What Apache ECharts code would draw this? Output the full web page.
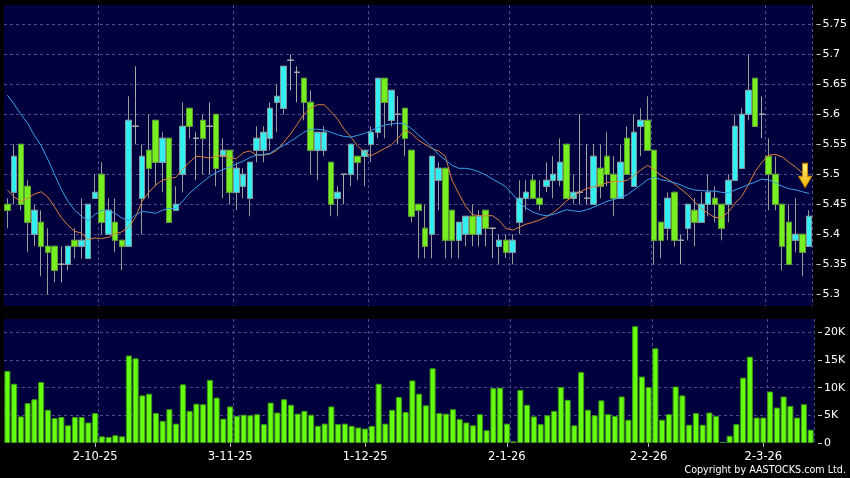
<!DOCTYPE html>
<html><head><meta charset="utf-8">
<script src="https://cdn.jsdelivr.net/npm/echarts@6/dist/echarts.min.js"></script>
<style>html,body{margin:0;padding:0;background:#000;}#c{width:850px;height:478px;}</style>
</head><body><div id="c"></div>
<script>
const dates = ['12-9-25','15-9-25','16-9-25','17-9-25','18-9-25','19-9-25','22-9-25','23-9-25','24-9-25','25-9-25','26-9-25','29-9-25','30-9-25',
'2-10-25','3-10-25','6-10-25','8-10-25','9-10-25','10-10-25','13-10-25','14-10-25','15-10-25','16-10-25','17-10-25','20-10-25','21-10-25','22-10-25','23-10-25','24-10-25','27-10-25','28-10-25','30-10-25','31-10-25',
'3-11-25','4-11-25','5-11-25','6-11-25','7-11-25','10-11-25','11-11-25','12-11-25','13-11-25','14-11-25','17-11-25','18-11-25','19-11-25','20-11-25','21-11-25','24-11-25','25-11-25','26-11-25','27-11-25','28-11-25',
'1-12-25','2-12-25','3-12-25','4-12-25','5-12-25','8-12-25','9-12-25','10-12-25','11-12-25','12-12-25','15-12-25','16-12-25','17-12-25','18-12-25','19-12-25','22-12-25','23-12-25','24-12-25','29-12-25','30-12-25','31-12-25',
'2-1-26','5-1-26','6-1-26','7-1-26','8-1-26','9-1-26','12-1-26','13-1-26','14-1-26','15-1-26','16-1-26','19-1-26','20-1-26','21-1-26','22-1-26','23-1-26','26-1-26','27-1-26','28-1-26','29-1-26','30-1-26',
'2-2-26','3-2-26','4-2-26','5-2-26','6-2-26','9-2-26','10-2-26','11-2-26','12-2-26','13-2-26','16-2-26','20-2-26','23-2-26','24-2-26','25-2-26','26-2-26','27-2-26',
'2-3-26','3-3-26','4-3-26','5-3-26','6-3-26','9-3-26','10-3-26','11-3-26'];

const opens = [5.45,5.47,5.55,5.48,5.40,5.42,5.38,5.38,5.35,5.35,
5.39,5.38,5.36,5.46,5.50,5.40,5.42,5.39,5.38,5.58,
5.46,5.54,5.59,5.52,5.56,5.44,5.50,5.61,5.56,5.59,
5.58,5.60,5.53,5.54,5.47,5.48,5.46,5.54,5.54,5.56,
5.62,5.61,5.69,5.67,5.66,5.62,5.54,5.54,5.52,5.46,
5.50,5.50,5.53,5.53,5.55,5.57,5.66,5.59,5.60,5.61,
5.54,5.45,5.41,5.40,5.49,5.51,5.44,5.39,5.40,5.43,
5.40,5.44,5.41,5.38,5.39,5.37,5.42,5.46,5.49,5.46,
5.48,5.49,5.49,5.55,5.46,5.47,5.46,5.45,5.51,5.53,
5.50,5.46,5.56,5.48,5.58,5.59,5.54,5.42,5.41,5.47,
5.39,5.41,5.44,5.42,5.45,5.46,5.45,5.45,5.49,5.51,
5.60,5.66,5.60,5.53,5.50,5.45,5.42,5.39,5.40,5.38];

const closes = [5.44,5.53,5.45,5.42,5.44,5.38,5.37,5.34,5.35,5.38,
5.38,5.39,5.45,5.47,5.42,5.44,5.39,5.38,5.59,5.58,
5.53,5.51,5.52,5.56,5.42,5.45,5.58,5.58,5.56,5.56,
5.58,5.51,5.54,5.47,5.51,5.50,5.52,5.56,5.57,5.61,
5.63,5.68,5.69,5.67,5.62,5.54,5.57,5.57,5.45,5.47,
5.50,5.55,5.52,5.54,5.57,5.66,5.62,5.64,5.60,5.56,
5.43,5.44,5.38,5.53,5.51,5.39,5.39,5.42,5.43,5.40,
5.43,5.41,5.41,5.39,5.37,5.39,5.46,5.47,5.46,5.45,
5.49,5.50,5.52,5.46,5.47,5.47,5.46,5.53,5.48,5.50,
5.46,5.52,5.50,5.57,5.59,5.54,5.39,5.39,5.46,5.39,
5.39,5.45,5.42,5.45,5.47,5.45,5.41,5.49,5.58,5.60,
5.64,5.58,5.60,5.50,5.45,5.38,5.35,5.40,5.37,5.43];

const lows = [5.41,5.45,5.44,5.37,5.38,5.33,5.30,5.32,5.32,5.34,
5.36,5.36,5.36,5.46,5.40,5.40,5.37,5.34,5.38,5.55,
5.40,5.46,5.48,5.47,5.42,5.44,5.47,5.56,5.49,5.50,
5.50,5.48,5.46,5.45,5.44,5.46,5.43,5.52,5.52,5.54,
5.57,5.60,5.64,5.62,5.59,5.50,5.49,5.53,5.43,5.43,
5.45,5.48,5.49,5.48,5.52,5.56,5.56,5.58,5.55,5.53,
5.42,5.36,5.36,5.36,5.44,5.36,5.36,5.36,5.38,5.38,
5.38,5.38,5.36,5.35,5.36,5.35,5.40,5.44,5.46,5.44,
5.47,5.46,5.48,5.46,5.45,5.45,5.45,5.45,5.46,5.48,
5.43,5.46,5.50,5.48,5.53,5.54,5.35,5.36,5.39,5.38,
5.35,5.39,5.38,5.42,5.43,5.42,5.39,5.42,5.49,5.51,
5.59,5.58,5.56,5.44,5.44,5.34,5.35,5.37,5.33,5.38];

const highs = [5.46,5.55,5.55,5.49,5.45,5.44,5.41,5.38,5.38,5.38,
5.41,5.46,5.45,5.50,5.52,5.46,5.46,5.39,5.63,5.68,
5.55,5.60,5.59,5.57,5.56,5.48,5.62,5.61,5.57,5.60,
5.62,5.60,5.56,5.54,5.52,5.51,5.52,5.58,5.58,5.62,
5.65,5.68,5.70,5.68,5.66,5.64,5.57,5.58,5.52,5.48,
5.50,5.55,5.53,5.54,5.58,5.66,5.66,5.64,5.63,5.61,
5.54,5.45,5.45,5.53,5.52,5.51,5.44,5.42,5.43,5.45,
5.44,5.44,5.41,5.40,5.40,5.40,5.49,5.49,5.50,5.49,
5.52,5.53,5.56,5.55,5.50,5.60,5.55,5.55,5.55,5.57,
5.53,5.55,5.58,5.60,5.61,5.63,5.54,5.42,5.47,5.47,
5.40,5.45,5.46,5.47,5.50,5.48,5.45,5.50,5.60,5.61,
5.70,5.66,5.63,5.56,5.53,5.45,5.45,5.46,5.40,5.44];

const ma10 = [5.474,5.462,5.455,5.460,5.467,5.471,5.462,5.446,5.428,5.415,
5.405,5.402,5.391,5.394,5.393,5.395,5.401,5.404,5.412,5.428,
5.455,5.470,5.482,5.490,5.493,5.495,5.508,5.520,5.530,5.529,
5.527,5.530,5.532,5.527,5.526,5.536,5.539,5.532,5.532,5.534,
5.540,5.553,5.567,5.583,5.600,5.610,5.616,5.616,5.605,5.592,
5.575,5.562,5.547,5.536,5.531,5.537,5.543,5.549,5.560,5.574,
5.568,5.557,5.550,5.543,5.539,5.530,5.490,5.468,5.447,5.433,
5.431,5.431,5.431,5.423,5.410,5.407,5.412,5.417,5.420,5.424,
5.429,5.436,5.445,5.456,5.463,5.471,5.476,5.479,5.482,5.486,
5.488,5.488,5.490,5.498,5.507,5.515,5.508,5.498,5.492,5.484,
5.475,5.466,5.454,5.443,5.435,5.428,5.428,5.437,5.452,5.463,
5.483,5.505,5.520,5.532,5.533,5.529,5.520,5.512,5.502,5.494];

const ma20 = [5.632,5.617,5.600,5.585,5.565,5.548,5.525,5.500,5.475,5.455,
5.440,5.430,5.423,5.433,5.440,5.440,5.435,5.427,5.423,5.432,
5.438,5.437,5.435,5.440,5.443,5.443,5.455,5.468,5.478,5.487,
5.496,5.503,5.508,5.512,5.517,5.522,5.528,5.532,5.533,5.535,
5.543,5.548,5.555,5.562,5.570,5.575,5.575,5.574,5.570,5.566,
5.563,5.562,5.565,5.568,5.573,5.578,5.582,5.584,5.585,5.584,
5.576,5.566,5.556,5.545,5.533,5.524,5.515,5.510,5.510,5.508,
5.504,5.499,5.492,5.486,5.479,5.467,5.453,5.444,5.437,5.433,
5.431,5.433,5.437,5.441,5.439,5.438,5.441,5.445,5.450,5.455,
5.458,5.461,5.466,5.474,5.482,5.491,5.495,5.491,5.489,5.486,
5.482,5.477,5.474,5.473,5.472,5.472,5.470,5.469,5.474,5.478,
5.483,5.487,5.492,5.491,5.486,5.480,5.476,5.474,5.471,5.468];

const volumes = [13000,10700,4800,7200,7900,11000,6000,4500,4700,3200,
4700,4700,3700,5400,1200,1100,1400,1200,15800,15300,
8600,8900,5400,4000,6100,3500,10600,5800,7100,7000,
11400,8200,4400,6600,4900,5100,5000,5200,3400,7300,
5500,7900,6900,5300,5800,5100,3100,3500,6600,3400,
3500,3100,2800,2600,3100,10700,3500,6000,8300,5600,
11300,8900,6800,13500,5400,5300,6100,4300,3700,3200,
5200,2300,9900,10000,3500,300,9600,6900,4800,3400,
5000,5800,10100,7800,3200,12800,6000,5000,7700,5200,
4900,8400,4200,21100,12000,10100,17100,4200,5200,10200,
8600,3300,5400,3300,5500,4900,200,1300,3400,11800,
15600,4600,4600,9300,6400,8400,6700,4600,7000,2400];

const priceTicks = [5.3,5.35,5.4,5.45,5.5,5.55,5.6,5.65,5.7,5.75];
const volumeTicks = [0,5000,10000,15000,20000];
const labelDates = ['2-10-25','3-11-25','1-12-25','2-1-26','2-2-26','2-3-26'];

// full candles (wicks) and bodies only, both built from the same arrays
const ohlc = dates.map((d, i) => [opens[i], closes[i], lows[i], highs[i]]);
const bodies = dates.map((d, i) => [opens[i], closes[i], Math.min(opens[i], closes[i]), Math.max(opens[i], closes[i])]);
const splitIdx = new Set(labelDates.map(d => dates.indexOf(d) + 1));

const FONT = 'DejaVu Sans';
const gridLine = { show: true, lineStyle: { color: '#4c4c8e', type: [3, 3], width: 1 } };
const vSplit = Object.assign({}, gridLine, { interval: (idx) => splitIdx.has(idx) });

const chart = echarts.init(document.getElementById('c'), null, { renderer: 'canvas' });
chart.setOption({
  animation: false,
  backgroundColor: '#000000',
  grid: [
    { left: 4, right: 36, top: 5, height: 301, show: true, backgroundColor: '#00003f', borderWidth: 0 },
    { left: 4, right: 36, top: 319, height: 124, show: true, backgroundColor: '#00003f', borderWidth: 0 }
  ],
  xAxis: [
    { type: 'category', gridIndex: 0, data: dates, boundaryGap: true,
      axisLine: { show: false }, axisTick: { show: false }, axisLabel: { show: false },
      splitLine: vSplit },
    { type: 'category', gridIndex: 1, data: dates, boundaryGap: true,
      axisLine: { show: false },
      axisTick: { show: true, alignWithLabel: true, length: 4, interval: (i, v) => labelDates.includes(v), lineStyle: { color: '#bbbbbb' } },
      axisLabel: { show: true, interval: (i, v) => labelDates.includes(v), color: '#ffffff', fontFamily: FONT, fontSize: 11.5, margin: 8 },
      splitLine: vSplit }
  ],
  yAxis: [
    { type: 'value', gridIndex: 0, position: 'right', offset: 4, min: 5.2805, max: 5.7822, scale: true,
      axisLine: { show: false },
      axisTick: { show: true, length: 4, customValues: priceTicks, lineStyle: { color: '#cccccc' } },
      axisLabel: { customValues: priceTicks, color: '#ffffff', fontFamily: FONT, fontSize: 11, margin: 6,
        formatter: v => String(+v.toFixed(2)) },
      splitLine: gridLine },
    { type: 'value', gridIndex: 1, position: 'right', offset: 4, min: 0, max: 22400,
      axisLine: { show: false },
      axisTick: { show: true, length: 4, customValues: volumeTicks, lineStyle: { color: '#cccccc' } },
      axisLabel: { customValues: volumeTicks, color: '#ffffff', fontFamily: FONT, fontSize: 11, margin: 6,
        formatter: v => v === 0 ? '0' : (v / 1000) + 'K' },
      splitLine: Object.assign({}, gridLine, { showMinLine: false }) }
  ],
  series: [
    { type: 'candlestick', xAxisIndex: 0, yAxisIndex: 0, data: ohlc, barWidth: 6, z: 2,
      itemStyle: { color: '#9a9a9a', color0: '#9a9a9a', borderColor: '#9a9a9a', borderColor0: '#9a9a9a', borderColorDoji: '#a8a8a8', borderWidth: 1 },
      markPoint: {
        silent: true,
        label: { show: false },
        data: [{ coord: [dates[dates.length - 1], 5.498], symbol: 'path://M4,0 L9,0 L9,13 L13,13 L6.5,24 L0,13 L4,13 Z',
          symbolSize: [13, 24], symbolOffset: [-4, 0],
          itemStyle: { color: new echarts.graphic.LinearGradient(0, 0, 0, 1, [{ offset: 0, color: '#fff27a' }, { offset: 1, color: '#f2b000' }]), borderColor: '#c98a00', borderWidth: 1 } }]
      }
    },
    { type: 'candlestick', xAxisIndex: 0, yAxisIndex: 0, data: bodies, barWidth: 6, z: 2,
      itemStyle: { color: '#33eef2', color0: '#77ee22', borderColor: '#7f9c9c', borderColor0: '#58a02a', borderColorDoji: '#a8a8a8', borderWidth: 1 } },
    { type: 'line', xAxisIndex: 0, yAxisIndex: 0, data: ma10, symbol: 'none', smooth: false,
      lineStyle: { color: '#d9823b', width: 1 }, z: 3 },
    { type: 'line', xAxisIndex: 0, yAxisIndex: 0, data: ma20, symbol: 'none', smooth: false,
      lineStyle: { color: '#3aa0e8', width: 1 }, z: 3 },
    { type: 'bar', xAxisIndex: 1, yAxisIndex: 1, data: volumes, barWidth: 6,
      itemStyle: { color: '#66ff11', borderColor: '#3d9a10', borderWidth: 1 } }
  ],
  graphic: [
    { type: 'text', right: 4, top: 465, style: { text: 'Copyright by AASTOCKS.com Ltd.', fill: '#ffffff', font: '9.6px "DejaVu Sans"' } }
  ]
});
</script>
</body></html>
